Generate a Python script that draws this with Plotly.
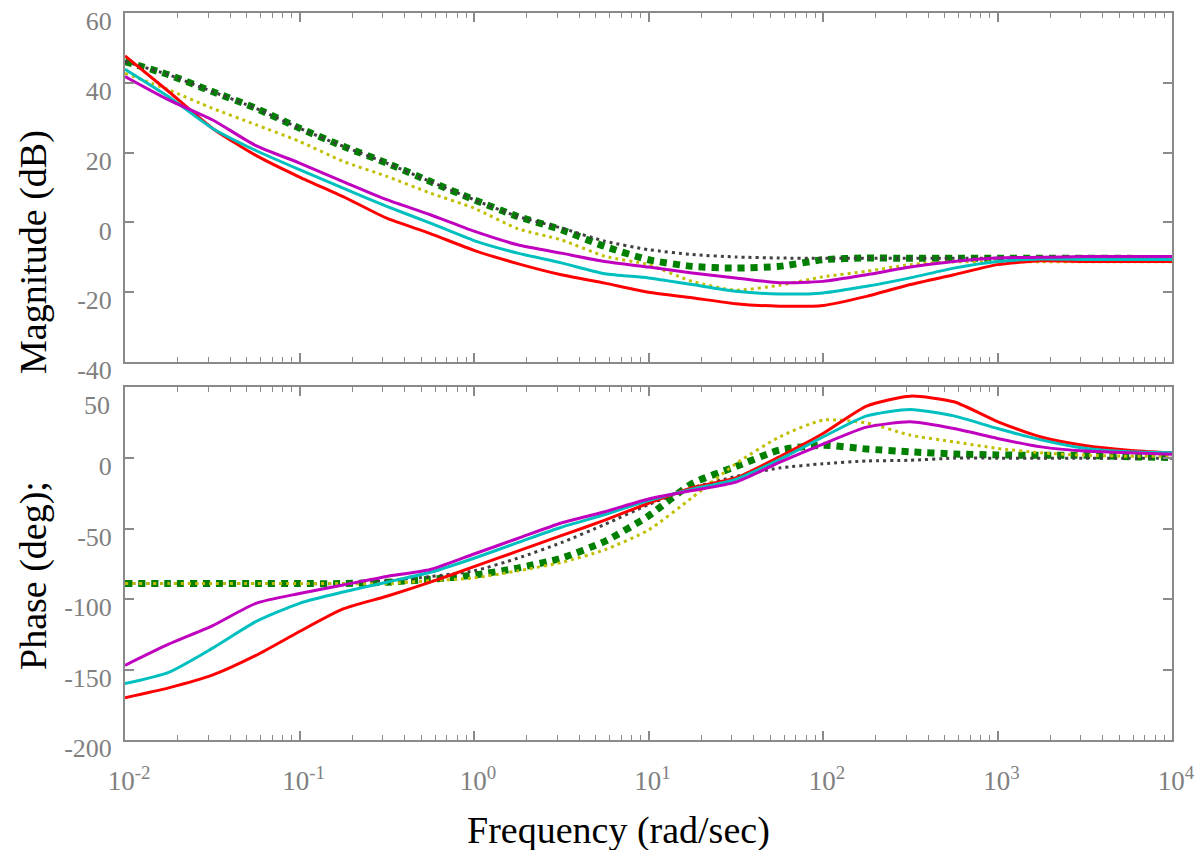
import plotly.graph_objects as go

freq = [0.01, 0.01778, 0.03162, 0.05623, 0.1, 0.1778, 0.3162, 0.5623, 1.0, 1.778, 3.162, 5.623,
        10.0, 17.78, 31.62, 56.23, 100.0, 177.8, 316.2, 562.3, 1000.0, 1778.0, 3162.0, 5623.0, 10000.0]

mag_red = [47.7, 37.5, 27.0, 19.2, 13.0, 7.4, 1.2, -3.2, -8.0, -11.8, -15.0, -17.4, -20.0, -21.6, -23.3,
           -24.0, -23.8, -21.2, -17.8, -15.0, -12.1, -11.0, -11.2, -11.2, -11.2]
mag_cyan = [43.9, 36.0, 27.0, 20.6, 15.1, 9.8, 4.6, -0.2, -5.2, -8.8, -11.6, -14.7, -15.9, -17.8, -19.7,
            -20.5, -20.2, -18.3, -15.9, -13.1, -11.2, -10.5, -10.6, -10.6, -10.6]
mag_magenta = [41.8, 35.1, 29.4, 22.0, 17.0, 11.7, 6.5, 2.2, -2.5, -6.4, -8.8, -11.2, -12.8, -14.5, -15.9,
               -17.3, -16.9, -15.0, -12.8, -11.2, -10.2, -10.0, -9.8, -9.8, -9.8]
mag_yellow = [42.7, 38.0, 32.7, 28.0, 23.2, 17.5, 13.2, 8.4, 4.1, -1.8, -5.0, -9.7, -12.1, -16.9, -19.4,
              -18.0, -15.6, -14.0, -12.1, -11.3, -11.3, -11.3, -11.3, -11.3, -11.3]
mag_green = [46.1, 42.3, 37.5, 32.7, 27.0, 21.8, 17.0, 11.7, 6.5, 1.7, -2.1, -6.9, -10.7, -12.6, -13.1,
             -12.6, -10.7, -10.2, -10.3, -10.3, -10.3, -10.3, -10.3, -10.3, -10.4]
mag_gray = [46.1, 42.3, 37.5, 32.7, 27.0, 21.8, 17.0, 11.7, 6.5, 1.7, -1.6, -5.4, -7.8, -9.2, -9.9,
            -10.2, -10.3, -10.3, -10.3, -10.3, -10.3, -10.3, -10.4, -10.5, -10.6]

ph_red = [-170, -163, -154, -140, -123, -107, -98, -88, -77, -66, -55, -44, -32, -21, -14,
          1, 17.5, 37, 44, 40, 26, 15, 9, 5.7, 3.8]
ph_cyan = [-160, -152, -135, -116, -103, -95, -88, -81, -71, -60, -49, -40, -30, -22, -15,
           -1, 15, 30, 34.6, 30, 21, 13, 7, 4.5, 3.8]
ph_magenta = [-147, -132, -119, -103, -96, -90, -84, -79, -68, -57, -46, -38, -29, -23, -17,
              -3, 10, 22, 25.8, 21, 14, 8, 5, 3.8, 2.8]
ph_yellow = [-89, -89, -89, -89, -89, -89, -89, -87, -85, -80, -74, -65, -51, -28, -4,
             15, 27, 25, 16.3, 11.6, 6.9, 3.8, 2.1, 1.4, 1.4]
ph_green = [-89, -89, -89, -89, -89, -89, -88, -86, -83, -78, -71, -59, -41, -18, -6,
            5.7, 9.2, 6.5, 4.5, 3.0, 2.3, 2.0, 2.0, 1.0, 0.5]
ph_gray = [-89, -89, -89, -89, -89, -89, -87, -84, -80, -71, -60, -47, -33, -21, -13,
           -7, -4, -2, -1.5, 0, 0, 0, 0, 0, 0]

mag_ticks = [-40, -20, 0, 20, 40, 60]
mag_ticktext = ["-40", "-20", "0", "20", "40", "60"]
ph_ticks = [-200, -150, -100, -50, 0, 50]
ph_ticktext = ["-200", "-150", "-100", "-50", "0", ""]
ph_top_label = "50"
decades = [0.01, 0.1, 1, 10, 100, 1000, 10000]
dec_text = ["10<sup>-2</sup>", "10<sup>-1</sup>", "10<sup>0</sup>", "10<sup>1</sup>",
            "10<sup>2</sup>", "10<sup>3</sup>", "10<sup>4</sup>"]
minor_vals = [k * d for d in decades[:-1] for k in range(2, 10)]

styles = [
    ("green", mag_green, ph_green, "#008000", 7, "7px,6px"),
    ("gray", mag_gray, ph_gray, "#404040", 3, "3px,4px"),
    ("yellow", mag_yellow, ph_yellow, "#bfbf00", 3, "3px,4px"),
    ("red", mag_red, ph_red, "#ff0000", 3, "solid"),
    ("cyan", mag_cyan, ph_cyan, "#00bfbf", 3, "solid"),
    ("magenta", mag_magenta, ph_magenta, "#bf00bf", 3, "solid"),
]

fig = go.Figure()
for name, m, p, col, w, dash in styles:
    ln = dict(color=col, width=w, dash=dash, shape="spline", smoothing=0.6)
    fig.add_trace(go.Scatter(x=freq, y=m, mode="lines", name=name, xaxis="x", yaxis="y",
                             line=ln, showlegend=False))
    fig.add_trace(go.Scatter(x=freq, y=p, mode="lines", name=name, xaxis="x2", yaxis="y2",
                             line=ln, showlegend=False))

FONT = "Liberation Serif"
GRAY = "#808080"
LINE = "#8a8a8a"

common_x = dict(type="log", range=[-2, 4], showgrid=False, zeroline=False, showline=True,
                linecolor=LINE, linewidth=2, mirror="ticks", ticks="inside", ticklen=9,
                tickcolor=LINE, tickwidth=1.5, tickvals=decades, automargin=False,
                minor=dict(tickvals=minor_vals, ticks="inside", ticklen=5, tickcolor=LINE, tickwidth=1.2))
common_y = dict(showgrid=False, zeroline=False, showline=True, linecolor=LINE, linewidth=2,
                mirror="ticks", ticks="inside", ticklen=9, tickcolor=LINE, tickwidth=1.5,
                tickfont=dict(family=FONT, size=26, color=GRAY), ticklabelstandoff=6,
                ticklabelshift=8, automargin=False, ticklabeloverflow="allow")

top_dom = [(740 - 362) / 727, 1.0]
bot_dom = [0.0, (740 - 387) / 727]

fig.update_layout(
    width=1195, height=850,
    margin=dict(l=125, r=23, t=13, b=110, autoexpand=False),
    paper_bgcolor="white", plot_bgcolor="white",
    font=dict(family=FONT),
    xaxis=dict(common_x, domain=[0, 1], anchor="y", showticklabels=False),
    yaxis=dict(common_y, domain=top_dom, anchor="x", range=[-40, 60],
               tickvals=mag_ticks, ticktext=mag_ticktext),
    xaxis2=dict(common_x, domain=[0, 1], anchor="y2", ticktext=dec_text,
                tickfont=dict(family=FONT, size=27, color=GRAY), ticklabelstandoff=16,
                ticklabelshift=4, ticklabeloverflow="allow"),
    yaxis2=dict(common_y, domain=bot_dom, anchor="x2", range=[-200, 50.5],
                tickvals=ph_ticks, ticktext=ph_ticktext),
    annotations=[
        dict(text=ph_top_label, xref="paper", yref="paper", x=(112 - 125) / 1047,
             y=(740 - 406) / 727, showarrow=False, xanchor="right", yanchor="middle",
             font=dict(family=FONT, size=26, color=GRAY)),
        dict(text="Magnitude (dB)", xref="paper", yref="paper", x=(33 - 125) / 1047,
             y=(740 - 252) / 727, textangle=-90, showarrow=False, xanchor="center", yanchor="middle",
             font=dict(family=FONT, size=38, color="black")),
        dict(text="Phase (deg);", xref="paper", yref="paper", x=(33 - 125) / 1047,
             y=(740 - 576) / 727, textangle=-90, showarrow=False, xanchor="center", yanchor="middle",
             font=dict(family=FONT, size=38, color="black")),
        dict(text="Frequency (rad/sec)", xref="paper", yref="paper", x=(618 - 125) / 1047,
             y=(740 - 830) / 727, showarrow=False, xanchor="center", yanchor="middle",
             font=dict(family=FONT, size=38, color="black")),
    ],
)

fig.write_html("out.html")
